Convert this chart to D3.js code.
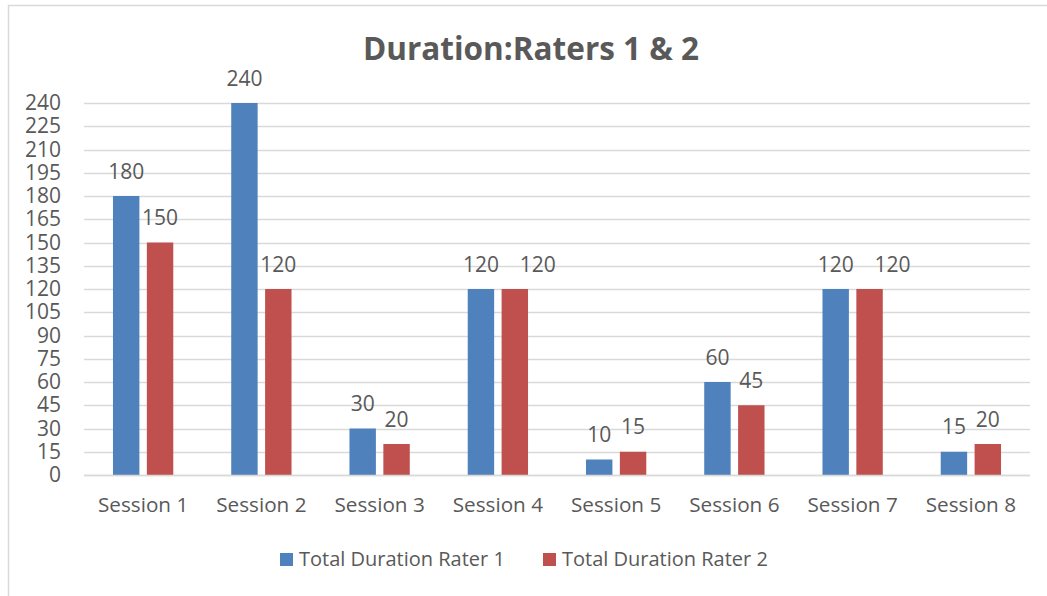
<!DOCTYPE html>
<html>
<head>
<meta charset="utf-8">
<script src="https://cdn.jsdelivr.net/npm/d3@7"></script>
<style>
  html, body { margin: 0; padding: 0; background: #ffffff; }
  svg { display: block; }
  text { font-family: "Open Sans", sans-serif; fill: #595959; }
</style>
</head>
<body>
<svg id="chart" width="1047" height="596"></svg>
<script>
// Chart data
const sessions = ["Session 1", "Session 2", "Session 3", "Session 4", "Session 5", "Session 6", "Session 7", "Session 8"];
const rater1 = [180, 240, 30, 120, 10, 60, 120, 15];
const rater2 = [150, 120, 20, 120, 15, 45, 120, 20];
const seriesNames = ["Total Duration Rater 1", "Total Duration Rater 2"];
const yTicks = d3.range(0, 241, 15);
const titleText = "Duration:Raters 1 & 2";

const colors = ["#4F81BD", "#C0504D"];
const series = [rater1, rater2];

const svg = d3.select("#chart");
const W = 1047, H = 596;
const margin = { left: 84, right: 17, top: 103, bottom: 121 };

// chart frame
svg.append("rect")
  .attr("x", 8.5).attr("y", 5.5)
  .attr("width", W + 10).attr("height", H + 10)
  .attr("fill", "none").attr("stroke", "#D9D9D9").attr("stroke-width", 1.5);

const x = d3.scaleBand()
  .domain(sessions)
  .range([margin.left, W - margin.right])
  .paddingInner(0.49).paddingOuter(0.245);

const x1 = d3.scaleBand()
  .domain(d3.range(series.length))
  .range([0, x.bandwidth()])
  .paddingInner(0.22);

const y = d3.scaleLinear()
  .domain([0, 240])
  .range([H - margin.bottom, margin.top]);

// gridlines
const grid = svg.append("g");
grid.selectAll("line")
  .data(yTicks)
  .join("line")
  .attr("x1", margin.left).attr("x2", W - margin.right)
  .attr("y1", d => Math.round(y(d)) + 0.5).attr("y2", d => Math.round(y(d)) + 0.5)
  .attr("stroke", "#D9D9D9").attr("stroke-width", 1.5);

// y axis labels
const yAxis = d3.axisLeft(y).tickValues(yTicks).tickSize(0).tickPadding(0);
const yg = svg.append("g")
  .attr("transform", `translate(${margin.left - 23},0)`)
  .call(yAxis);
yg.select(".domain").remove();
yg.selectAll("text")
  .attr("font-size", 21)
  .attr("font-family", "Open Sans, sans-serif")
  .attr("fill", "#595959");

// bars
const groups = svg.append("g").selectAll("g")
  .data(sessions)
  .join("g")
  .attr("transform", d => `translate(${x(d)},0)`);

groups.selectAll("rect")
  .data((d, i) => series.map((s, k) => ({ k, v: s[i] })))
  .join("rect")
  .attr("x", d => x1(d.k))
  .attr("width", x1.bandwidth())
  .attr("y", d => y(d.v))
  .attr("height", d => y(0) - y(d.v))
  .attr("fill", d => colors[d.k]);

// value labels; when both labels of a group sit at the same height,
// the second one is nudged right so they don't collide
groups.selectAll("text.val")
  .data((d, i) => series.map((s, k) => ({ k, v: s[i], other: series[1 - k][i] })))
  .join("text")
  .attr("class", "val")
  .attr("x", d => {
    const cx = x1(d.k) + x1.bandwidth() / 2;
    const collide = Math.abs(y(d.v) - y(d.other)) < 4;
    return d.k === 1 && collide ? cx + 23 : cx;
  })
  .attr("y", d => y(d.v) - 17.5)
  .attr("text-anchor", "middle")
  .attr("font-size", 21)
  .text(d => d.v);

// x axis line and labels
svg.append("line")
  .attr("x1", margin.left).attr("x2", W - margin.right)
  .attr("y1", y(0) + 0.5).attr("y2", y(0) + 0.5)
  .attr("stroke", "#D9D9D9").attr("stroke-width", 1.5);

const xAxis = d3.axisBottom(x).tickSize(0).tickPadding(0);
const xg = svg.append("g")
  .attr("transform", `translate(0,${y(0) + 22})`)
  .call(xAxis);
xg.select(".domain").remove();
xg.selectAll("text")
  .attr("font-size", 20.7)
  .attr("font-family", "Open Sans, sans-serif")
  .attr("fill", "#595959");

// title
svg.append("text")
  .attr("x", 531).attr("y", 60)
  .attr("text-anchor", "middle")
  .attr("font-size", 31.5)
  .attr("font-weight", "bold")
  .text(titleText);

// legend
const legendX = [280, 543];
const legend = svg.append("g").selectAll("g")
  .data(seriesNames)
  .join("g")
  .attr("transform", (d, i) => `translate(${legendX[i]},553)`);
legend.append("rect")
  .attr("width", 13).attr("height", 13)
  .attr("fill", (d, i) => colors[i]);
legend.append("text")
  .attr("x", 19).attr("y", 13)
  .attr("font-size", 20)
  .text(d => d);
</script>
</body>
</html>
